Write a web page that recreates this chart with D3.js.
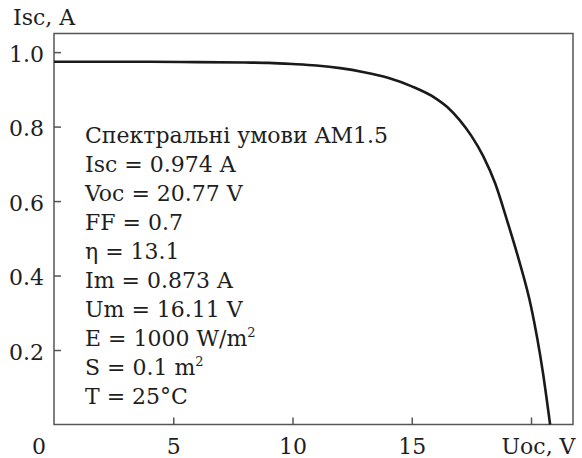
<!DOCTYPE html>
<html>
<head>
<meta charset="utf-8">
<script src="https://cdn.jsdelivr.net/npm/d3@7"></script>
<style>
  body { margin: 0; background: #fff; }
  svg text { font-family: "DejaVu Serif", "Liberation Serif", serif; fill: #1e1e1e; }
</style>
</head>
<body>
<svg id="chart" width="582" height="458"></svg>
<script>
// I-V curve
const voltage = [0, 2, 4, 6, 8, 9, 10, 11, 12, 13, 14, 15, 16, 16.5, 17, 17.5, 18, 18.5, 19, 19.5, 20, 20.5, 20.8];
const current = [0.974, 0.974, 0.974, 0.973, 0.972, 0.971, 0.968, 0.964, 0.957, 0.946, 0.931, 0.908, 0.876, 0.852, 0.818, 0.775, 0.72, 0.647, 0.547, 0.44, 0.317, 0.139, 0.0];

const xTicks = [5, 10, 15, 20];
const xTickLabels = ["5", "10", "15", "Uoc, V"];
const yTicks = [0.2, 0.4, 0.6, 0.8, 1.0];

const notes = [
    ["Спектральні умови AM1.5"],
    ["Isc = 0.974 A"],
    ["Voc = 20.77 V"],
    ["FF = 0.7"],
    ["η = 13.1"],
    ["Im = 0.873 A"],
    ["Um = 16.11 V"],
    ["E = 1000 W/m", "2"],
    ["S = 0.1 m", "2"],
    ["T = 25°C"]
];

const fontSize = "22px";

const svg = d3.select("#chart");
const margin = { top: 33.5, right: 9, bottom: 33.5, left: 54 };
const width = 582 - margin.left - margin.right;
const height = 458 - margin.top - margin.bottom;

var x = d3.scaleLinear().domain([0, 21.76]).range([0, width]);
var y = d3.scaleLinear().domain([0, 1.05]).range([height, 0]);

var g = svg.append("g").attr("transform", "translate(" + margin.left + "," + margin.top + ")");

// frame
g.append("rect")
    .attr("x", 0).attr("y", 0)
    .attr("width", width).attr("height", height)
    .attr("fill", "none")
    .attr("stroke", "#555")
    .attr("stroke-width", 1.5);

// x axis, ticks pointing inward
var xAxis = g.append("g")
    .attr("transform", "translate(0," + height + ")")
    .call(d3.axisBottom(x).tickValues(xTicks).tickSize(-7).tickFormat((d, i) => xTickLabels[i]));
xAxis.attr("font-family", null);
xAxis.select(".domain").remove();
xAxis.selectAll(".tick line").attr("stroke", "#555").attr("stroke-width", 1.5);
xAxis.selectAll(".tick text")
    .attr("y", 29).attr("dy", 0)
    .style("font-size", fontSize)
    .attr("fill", "#1e1e1e");
xAxis.selectAll(".tick text").filter((d, i) => i === xTicks.length - 1)
    .attr("text-anchor", "end")
    .attr("x", x(21.76) - x(20) + 2);

// y axis, ticks pointing inward
var yAxis = g.append("g")
    .call(d3.axisLeft(y).tickValues(yTicks).tickSize(-7).tickFormat(d3.format(".1f")));
yAxis.attr("font-family", null);
yAxis.select(".domain").remove();
yAxis.selectAll(".tick line").attr("stroke", "#555").attr("stroke-width", 1.5);
yAxis.selectAll(".tick text")
    .attr("x", -10).attr("dy", 9)
    .style("font-size", fontSize)
    .attr("fill", "#1e1e1e");

// shared origin label
g.append("text")
    .attr("x", -15).attr("y", height + 29)
    .attr("text-anchor", "middle")
    .style("font-size", fontSize)
    .text("0");

// y axis title
g.append("text")
    .attr("x", -41).attr("y", -8.5)
    .style("font-size", fontSize)
    .text("Isc, A");

// the curve
var line = d3.line()
    .x((d, i) => x(voltage[i]))
    .y(d => y(d))
    .curve(d3.curveMonotoneX);

g.append("path")
    .datum(current)
    .attr("fill", "none")
    .attr("stroke", "#1a1a1a")
    .attr("stroke-width", 2.6)
    .attr("d", line);

// parameter notes
var noteG = g.append("g").attr("transform", "translate(31,0)");
notes.forEach((n, i) => {
    var t = noteG.append("text")
        .attr("x", 0)
        .attr("y", 109.5 + i * 29)
        .style("font-size", fontSize);
    t.append("tspan").text(n[0]);
    if (n[1]) {
        t.append("tspan")
            .attr("dy", -9)
            .style("font-size", "13px")
            .text(n[1]);
    }
});
</script>
</body>
</html>
